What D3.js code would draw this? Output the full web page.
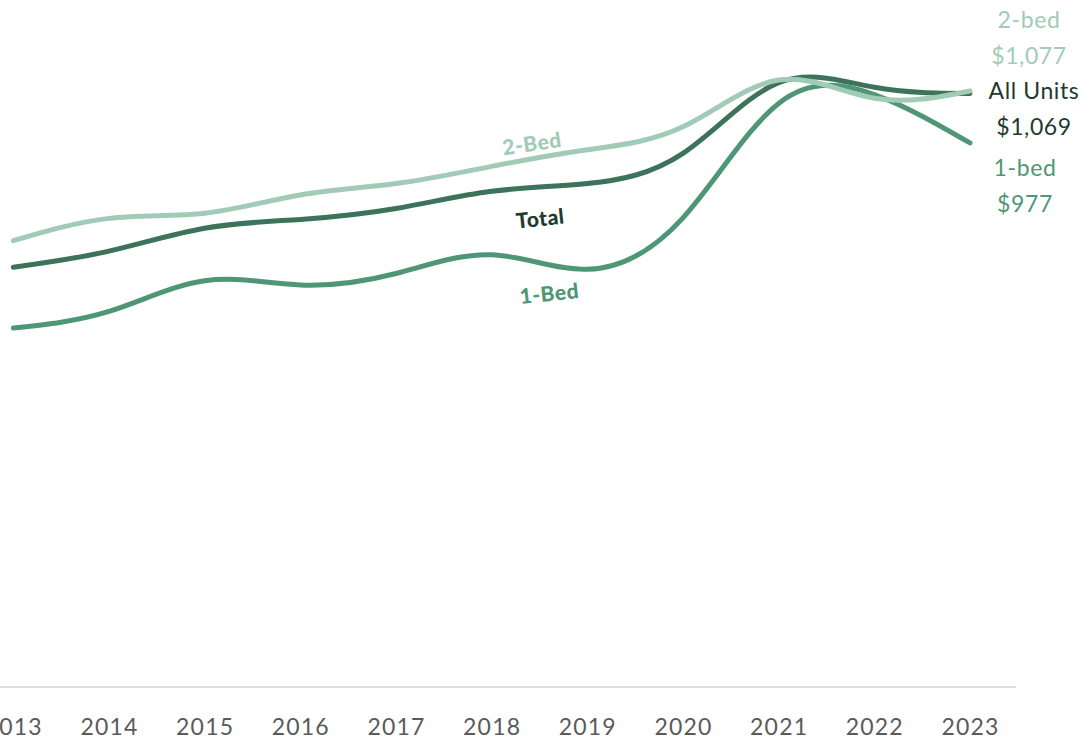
<!DOCTYPE html>
<html>
<head>
<meta charset="utf-8">
<script src="https://cdn.jsdelivr.net/npm/d3@7"></script>
<style>
  body { margin: 0; background: #fff; }
  #canvas { width: 1084px; height: 742px; }
</style>
</head>
<body>
<div id="canvas"></div>
<script>
"use strict"

/* Data */
let years = [2013, 2014, 2015, 2016, 2017, 2018, 2019, 2020, 2021, 2022, 2023];
let twoBed = [789, 832, 842, 877, 899, 932, 964, 1008, 1098, 1063, 1077];
let total = [738, 769, 813, 830, 851, 884, 899, 957, 1093, 1084, 1072];
let oneBed = [621, 653, 712, 704, 726, 762, 734, 833, 1053, 1070, 977];

let endLabels = [
  { name: "2-bed", value: "$1,077", cls: "two" },
  { name: "All Units", value: "$1,069", cls: "total" },
  { name: "1-bed", value: "$977", cls: "one" }
];

/* Drawing config */
let svgWidth = 1084;
let svgHeight = 742;

let colTwo = "#a1cbb7";
let colTotal = "#3c735a";
let colOne = "#4f9677";
let colTotalText = "#1f3a2e";

let svg = d3.select("#canvas")
  .append("svg")
  .attr("width", svgWidth)
  .attr("height", svgHeight);

// scales
let xScale = d3.scaleLinear()
  .domain([2013, 2023])
  .range([13.3, 970]);

let yScale = d3.scaleLinear()
  .domain([0, 1100])
  .range([651, 79]);

// axis line
svg.append("line")
  .attr("x1", 0)
  .attr("x2", 1016)
  .attr("y1", 687)
  .attr("y2", 687)
  .attr("stroke", "#dedede")
  .attr("stroke-width", 2);

// year labels
let xAxis = d3.axisBottom(xScale)
  .tickValues(years)
  .tickFormat(d3.format("d"))
  .tickSize(0)
  .tickPadding(0);

let axisG = svg.append("g")
  .attr("transform", "translate(0, 735)")
  .call(xAxis);
axisG.select(".domain").remove();
axisG.selectAll("text")
  .attr("dy", 0)
  .attr("y", 0)
  .style("font-family", "Lato, sans-serif")
  .style("font-size", "23px")
  .style("letter-spacing", "1.2px")
  .style("fill", "#5a5a5a");

// lines
let line = d3.line()
  .x(function (d, i) { return xScale(years[i]) })
  .y(function (d) { return yScale(d) })
  .curve(d3.curveNatural);

let series = [
  { values: oneBed, color: colOne },
  { values: total, color: colTotal },
  { values: twoBed, color: colTwo }
];

svg.selectAll("path.series")
  .data(series)
  .join("path")
  .attr("class", "series")
  .attr("d", function (d) { return line(d.values) })
  .attr("fill", "none")
  .attr("stroke", function (d) { return d.color })
  .attr("stroke-width", 5)
  .attr("stroke-linecap", "round")
  .attr("stroke-linejoin", "round");

// inline labels on the lines
let inline = [
  { text: "2-Bed", x: 533, y: 151, rot: -8, color: colTwo },
  { text: "Total", x: 541, y: 226, rot: -6, color: colTotalText },
  { text: "1-Bed", x: 550, y: 301, rot: -6, color: colOne }
];

svg.selectAll("text.inline")
  .data(inline)
  .join("text")
  .attr("class", "inline")
  .attr("transform", function (d) { return "translate(" + d.x + "," + d.y + ") rotate(" + d.rot + ")" })
  .attr("text-anchor", "middle")
  .style("font-family", "Lato, sans-serif")
  .style("font-weight", "900")
  .style("font-size", "21px")
  .style("letter-spacing", "0.5px")
  .style("fill", function (d) { return d.color })
  .text(function (d) { return d.text });

// end labels at the right
let endColors = { two: colTwo, total: colTotalText, one: colOne };
let endX = [1029, 1034, 1025];
let endY = [28, 99, 176];

for (let i = 0; i < endLabels.length; i++) {
  svg.append("text")
    .attr("x", endX[i])
    .attr("y", endY[i])
    .attr("text-anchor", "middle")
    .style("font-family", "Lato, sans-serif")
    .style("font-size", "23px")
    .style("letter-spacing", "0.6px")
    .style("fill", endColors[endLabels[i].cls])
    .text(endLabels[i].name);

  svg.append("text")
    .attr("x", endX[i])
    .attr("y", endY[i] + 36)
    .attr("text-anchor", "middle")
    .style("font-family", "Lato, sans-serif")
    .style("font-size", "23px")
    .style("letter-spacing", "0.6px")
    .style("fill", endColors[endLabels[i].cls])
    .text(endLabels[i].value);
}
</script>
</body>
</html>
